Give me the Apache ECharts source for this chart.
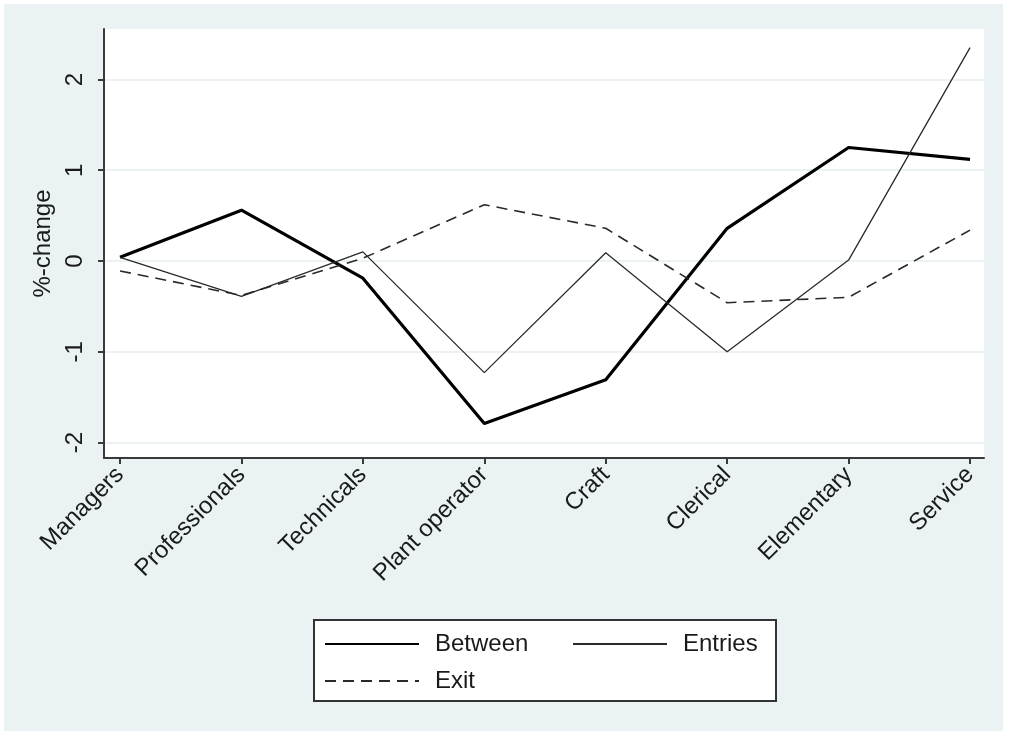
<!DOCTYPE html>
<html>
<head>
<meta charset="utf-8">
<script src="https://cdn.jsdelivr.net/npm/echarts@6/dist/echarts.min.js"></script>
<style>
html,body{margin:0;padding:0;background:#fff;}
#chart{position:absolute;left:4px;top:4px;width:999px;height:727px;}
</style>
</head>
<body>
<div id="chart"></div>
<script>
const categories = ['Managers','Professionals','Technicals','Plant operator','Craft','Clerical','Elementary','Service'];
const between = [0.04, 0.56, -0.19, -1.79, -1.31, 0.36, 1.25, 1.12];
const entries = [0.04, -0.39, 0.10, -1.23, 0.09, -1.00, 0.01, 2.35];
const exitVals = [-0.11, -0.38, 0.03, 0.62, 0.36, -0.46, -0.40, 0.34];
const yTicks = [-2, -1, 0, 1, 2];
const xTicks = categories.map((c, i) => i);

const font = 'Liberation Sans, Arial, sans-serif';
const txt = '#1a1a1a';
const toPairs = arr => arr.map((v, i) => [i, v]);

const chart = echarts.init(document.getElementById('chart'));
const legendCommon = {
  itemWidth: 94, itemHeight: 14, padding: 0,
  itemStyle: { color: 'rgba(0,0,0,0)', borderWidth: 0, opacity: 0 },
  textStyle: { fontFamily: font, fontSize: 24, color: txt, padding: [0, 0, 0, 11] },
  selectedMode: false
};
chart.setOption({
  backgroundColor: '#eaf2f3',
  animation: false,
  grid: { left: 100, top: 25, right: 19, bottom: 273, show: true, backgroundColor: '#ffffff', borderWidth: 0 },
  xAxis: {
    type: 'value', min: -0.132, max: 7.115,
    axisLine: { show: true, onZero: false, lineStyle: { color: '#3a3a3a', width: 2 } },
    axisTick: { show: true, customValues: xTicks, length: 6, lineStyle: { color: '#3a3a3a', width: 2 } },
    axisLabel: { customValues: xTicks, rotate: 45, margin: 13, fontFamily: font, fontSize: 24, color: txt,
      formatter: v => categories[Math.round(v)] },
    splitLine: { show: false }
  },
  yAxis: {
    type: 'value', min: -2.171, max: 2.556,
    name: '%-change', nameLocation: 'middle', nameRotate: 90, nameGap: 44,
    nameTextStyle: { fontFamily: font, fontSize: 24, color: txt },
    axisLine: { show: true, onZero: false, lineStyle: { color: '#3a3a3a', width: 2 } },
    axisTick: { show: true, customValues: yTicks, length: 6, lineStyle: { color: '#3a3a3a', width: 2 } },
    axisLabel: { customValues: yTicks, rotate: 90, margin: 17, fontFamily: font, fontSize: 24, color: txt },
    splitLine: { show: true, lineStyle: { color: '#eaf2f3', width: 2 } }
  },
  graphic: [{
    type: 'rect', left: 309, top: 615, z: -1,
    shape: { width: 462, height: 81 },
    style: { fill: '#ffffff', stroke: '#333333', lineWidth: 2 }
  }],
  legend: [
    Object.assign({}, legendCommon, { left: 320, top: 628, data: ['Between'] }),
    Object.assign({}, legendCommon, { left: 568, top: 628, data: ['Entries'] }),
    Object.assign({}, legendCommon, { left: 320, top: 665, data: ['Exit'] })
  ],
  series: [
    { name: 'Between', type: 'line', symbol: 'none', data: toPairs(between),
      lineStyle: { color: '#000000', width: 3.2 }, itemStyle: { color: '#000000' } },
    { name: 'Entries', type: 'line', symbol: 'none', data: toPairs(entries),
      lineStyle: { color: '#2a2a2a', width: 1.3 }, itemStyle: { color: '#2a2a2a' } },
    { name: 'Exit', type: 'line', symbol: 'none', data: toPairs(exitVals),
      lineStyle: { color: '#2a2a2a', width: 1.6, type: [11, 7] }, itemStyle: { color: '#2a2a2a' } }
  ]
});
</script>
</body>
</html>
